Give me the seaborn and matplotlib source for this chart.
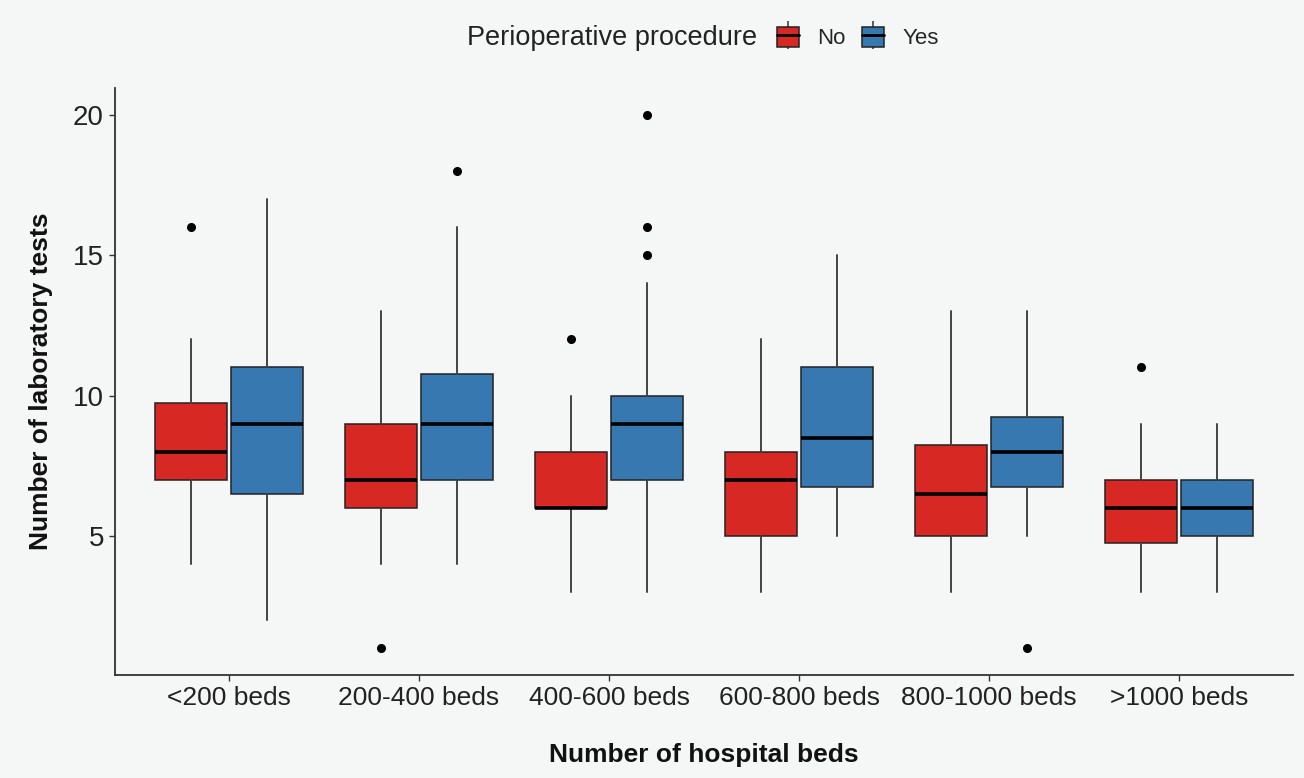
import matplotlib
matplotlib.use("Agg")
import matplotlib.pyplot as plt
from matplotlib.patches import Patch
from matplotlib.lines import Line2D
import seaborn as sns

# summary statistics
categories = ["<200 beds", "200-400 beds", "400-600 beds", "600-800 beds", "800-1000 beds", ">1000 beds"]
groups = ["No", "Yes"]

no_low = [4, 4, 3, 3, 3, 3]
no_q1 = [7, 6, 6, 5, 5, 4.75]
no_med = [8, 7, 6, 7, 6.5, 6]
no_q3 = [9.75, 9, 8, 8, 8.25, 7]
no_high = [12, 13, 10, 12, 13, 9]
no_fliers = [[16], [1], [12], [], [], [11]]

yes_low = [2, 4, 3, 5, 5, 3]
yes_q1 = [6.5, 7, 7, 6.75, 6.75, 5]
yes_med = [9, 9, 9, 8.5, 8, 6]
yes_q3 = [11, 10.75, 10, 11, 9.25, 7]
yes_high = [17, 16, 14, 15, 13, 9]
yes_fliers = [[], [18], [15, 16, 20], [], [1], []]

colors = {"No": "#D82824", "Yes": "#3878B1"}
bg = "#F5F6F6"

sns.set_theme(style="white")
plt.rcParams["font.family"] = ["Liberation Sans", "DejaVu Sans"]

fig = plt.figure(figsize=(13.04, 7.78), dpi=100, facecolor=bg)
ax = fig.add_axes([0.0882, 0.1324, 0.9034, 0.7545])
ax.set_facecolor(bg)


def make_stats(low, q1, med, q3, high, fliers):
    return [dict(whislo=a, q1=b, med=c, q3=d, whishi=e, fliers=f)
            for a, b, c, d, e, f in zip(low, q1, med, q3, high, fliers)]


series = {
    "No": make_stats(no_low, no_q1, no_med, no_q3, no_high, no_fliers),
    "Yes": make_stats(yes_low, yes_q1, yes_med, yes_q3, yes_high, yes_fliers),
}
offsets = {"No": -0.2, "Yes": 0.2}

for g in groups:
    pos = [i + 1 + offsets[g] for i in range(len(categories))]
    ax.bxp(series[g], positions=pos, widths=0.375, patch_artist=True,
           showcaps=False, manage_ticks=False,
           boxprops=dict(facecolor=colors[g], edgecolor="#222222", linewidth=1.1),
           whiskerprops=dict(color="#444444", linewidth=1.4),
           medianprops=dict(color="black", linewidth=2.6),
           flierprops=dict(marker="o", markerfacecolor="black", markeredgecolor="black",
                           markersize=5.5))

ax.set_xlim(0.4, 6.6)
ax.set_ylim(0.05, 20.95)
ax.set_xticks(range(1, len(categories) + 1))
ax.set_xticklabels(categories)
ax.set_yticks([5, 10, 15, 20])
ax.tick_params(axis="both", colors="#333333", labelcolor="#222222", length=4, width=1,
               direction="out", bottom=True, left=True, pad=4)
ax.tick_params(axis="x", labelsize=19)
ax.tick_params(axis="y", labelsize=20)
for s in ["top", "right"]:
    ax.spines[s].set_visible(False)
for s in ["left", "bottom"]:
    ax.spines[s].set_color("#333333")
    ax.spines[s].set_linewidth(1.3)

ax.set_xlabel("Number of hospital beds", fontsize=19, fontweight="bold", labelpad=24,
              color="#111111")
ax.set_ylabel("Number of laboratory tests", fontsize=19, fontweight="bold", labelpad=14,
              color="#111111")

fig.text(757 / 1304, 1 - 38 / 778, "Perioperative procedure", fontsize=19.5,
         ha="right", va="center", color="#222222")
handles = []
for g in groups:
    whisk = Line2D([], [], color="#444444", marker="|", markersize=20, linestyle="none",
                   markeredgewidth=1.2)
    box = Patch(facecolor=colors[g], edgecolor="#222222", linewidth=1.1)
    med = Line2D([], [], color="black", linewidth=2)
    handles.append((whisk, box, med))
fig.legend(handles=handles, labels=groups, ncol=2, loc="center left",
           bbox_to_anchor=(757 / 1304, 1 - 38 / 778), frameon=False, fontsize=16,
           handlelength=1.0, handleheight=1.0, columnspacing=0.75, handletextpad=0.8)

fig.savefig("out.png", dpi=100, facecolor=bg)
